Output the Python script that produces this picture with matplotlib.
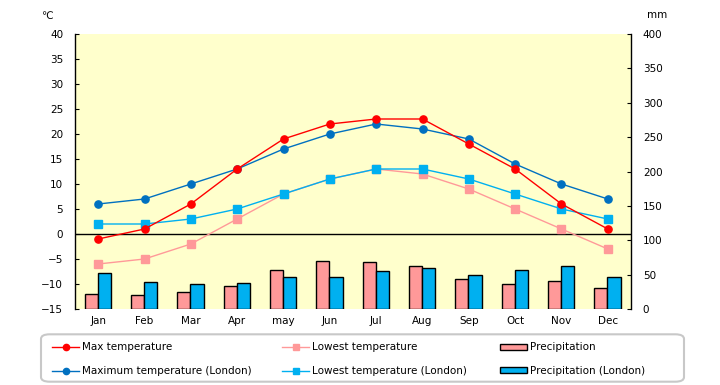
import matplotlib
matplotlib.use('Agg')
import matplotlib.pyplot as plt
from matplotlib.patches import FancyBboxPatch, Patch
from matplotlib.lines import Line2D
import numpy as np

plt.rcParams['font.family'] = ['DejaVu Sans']

months = ['Jan', 'Feb', 'Mar', 'Apr', 'may', 'Jun', 'Jul', 'Aug', 'Sep', 'Oct', 'Nov', 'Dec']
max_temp = [-1, 1, 6, 13, 19, 22, 23, 23, 18, 13, 6, 1]
low_temp = [-6, -5, -2, 3, 8, 11, 13, 12, 9, 5, 1, -3]
max_london = [6, 7, 10, 13, 17, 20, 22, 21, 19, 14, 10, 7]
low_london = [2, 2, 3, 5, 8, 11, 13, 13, 11, 8, 5, 3]
precip = [22, 21, 25, 33, 57, 70, 69, 62, 43, 37, 41, 31]
precip_london = [53, 40, 37, 38, 46, 46, 56, 59, 50, 57, 63, 47]

temp_ticks = list(range(-15, 41, 5))
mm_ticks = list(range(0, 401, 50))

C_RED = '#FF0000'
C_PINK = '#FF9999'
C_DBLUE = '#0070C0'
C_LBLUE = '#00B0F0'
FS = 7.5

W, H = 720, 385
fig = plt.figure(figsize=(W / 100, H / 100), dpi=100)
ax = fig.add_axes([75 / W, 1 - 309 / H, (631 - 75) / W, (309 - 34) / H])
ax2 = ax.twinx()
ax.set_zorder(ax2.get_zorder() + 1)
ax.patch.set_visible(False)
ax2.patch.set_visible(True)
ax2.patch.set_facecolor('#FFFFCC')

x = np.arange(len(months))
bw = 0.285
ax2.bar(x - 0.15, precip, bw, color=C_PINK, edgecolor='black', linewidth=1)
ax2.bar(x + 0.135, precip_london, bw, color=C_LBLUE, edgecolor='black', linewidth=1)
ax2.set_ylim(0, 400)
ax2.set_yticks(mm_ticks)

ax.axhline(0, color='black', lw=1, zorder=1)
ms = 5.2
ax.plot(x, low_temp, color=C_PINK, marker='s', ms=ms, lw=1, zorder=2)
ax.plot(x, low_london, color=C_LBLUE, marker='s', ms=ms, lw=1, zorder=3)
ax.plot(x, max_london, color=C_DBLUE, marker='o', ms=ms, lw=1, zorder=3)
ax.plot(x, max_temp, color=C_RED, marker='o', ms=ms, lw=1, zorder=4)

ax.set_xlim(-0.5, len(months) - 0.5)
ax.set_ylim(-15, 40)
ax.set_yticks(temp_ticks)
ax.set_xticks(x)
ax.set_xticklabels(months, fontsize=FS)

for a in (ax, ax2):
    for s in ('top', 'bottom'):
        a.spines[s].set_visible(False)
ax.spines['right'].set_visible(False)
ax2.spines['left'].set_visible(False)
ax.spines['left'].set_linewidth(1)
ax2.spines['right'].set_linewidth(1)

ax.tick_params(axis='y', direction='in', length=3, pad=8.5, labelsize=FS)
ax.tick_params(axis='x', length=0, pad=5, labelsize=FS)
ax2.tick_params(axis='y', direction='in', length=3, pad=8.5, labelsize=FS)

fig.text(47 / W, 1 - 16 / H, '℃', fontsize=FS, ha='center', va='center')
fig.text(657 / W, 1 - 15 / H, 'mm', fontsize=FS, ha='center', va='center')

# legend frame
box = FancyBboxPatch((41 / W + 0.006, 1 - 384 / H + 0.012), (684 - 41) / W - 0.012, (384 - 332) / H - 0.024,
                     boxstyle='round,pad=0.006,rounding_size=0.012', transform=fig.transFigure,
                     facecolor='white', edgecolor='#C8C8C8', linewidth=1.5, zorder=0)
fig.patches.append(box)

def mk_line(c, m):
    return Line2D([], [], color=c, marker=m, ms=4.5, lw=1)

groups = [
    ([mk_line(C_RED, 'o'), mk_line(C_DBLUE, 'o')],
     ['Max temperature', 'Maximum temperature (London)'], 52),
    ([mk_line(C_PINK, 's'), mk_line(C_LBLUE, 's')],
     ['Lowest temperature', 'Lowest temperature (London)'], 282),
    ([Patch(facecolor=C_PINK, edgecolor='black', lw=1), Patch(facecolor=C_LBLUE, edgecolor='black', lw=1)],
     ['Precipitation', 'Precipitation (London)'], 500),
]
for handles, labels, px in groups:
    leg = fig.legend(handles, labels, loc='upper left', bbox_to_anchor=(px / W, 1 - 342.5 / H),
                     bbox_transform=fig.transFigure, frameon=False, fontsize=FS,
                     handlelength=2.6, handletextpad=0.3, labelspacing=1.3,
                     borderpad=0, borderaxespad=0, handleheight=0.55)

fig.savefig('out.png', dpi=100)
